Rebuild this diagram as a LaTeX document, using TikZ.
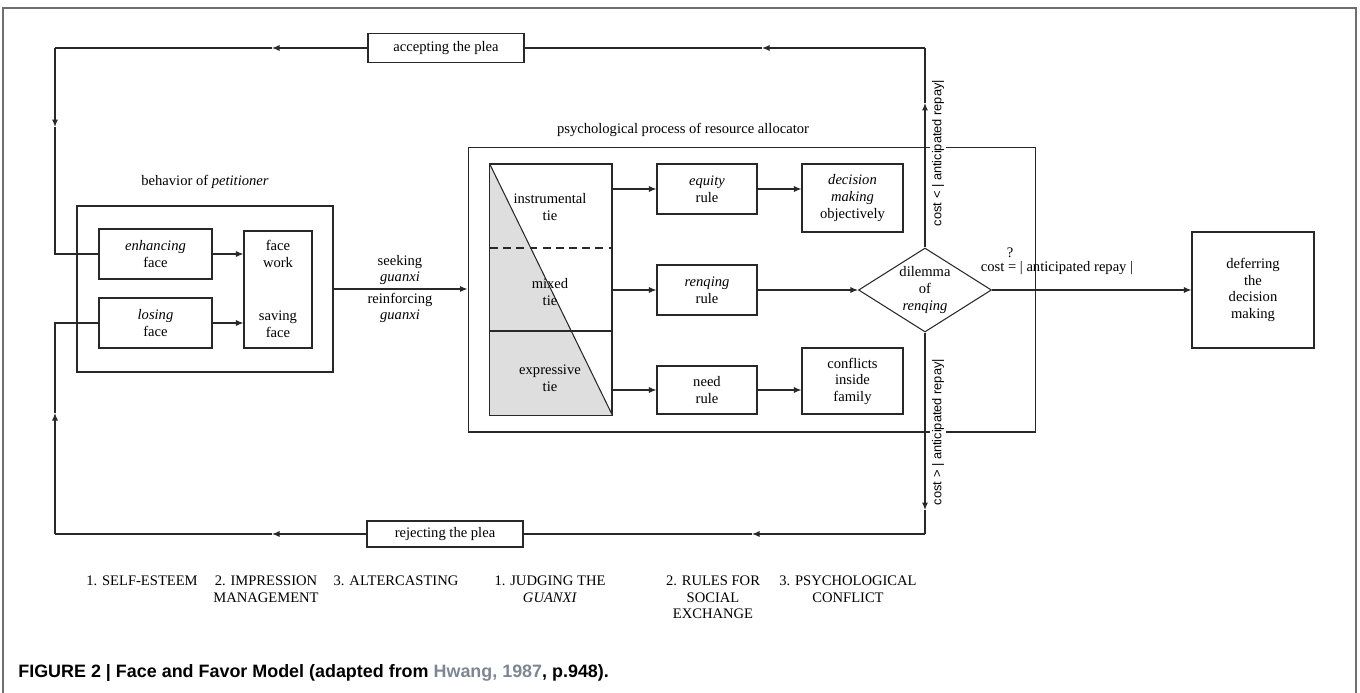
\documentclass[tikz,border=0pt]{standalone}
\usepackage{fontspec}
\setmainfont{Liberation Serif}
\setsansfont{Liberation Sans}
\usepackage{tikz}
\usetikzlibrary{positioning, arrows.meta, shapes.geometric}
\definecolor{ffline}{RGB}{40, 40, 40}
\definecolor{ffframe}{RGB}{110, 110, 110}
\definecolor{ffshade}{RGB}{222, 222, 222}
\definecolor{ffcite}{RGB}{125, 135, 148}
\tikzset{
    ffbox/.style={rectangle, draw=ffline, line width=0.6pt, inner sep=0pt, align=center, font=\fontsize{8.3}{9.4}\selectfont},
    txt/.style={inner sep=1pt, align=center, font=\fontsize{8.3}{9.4}\selectfont},
    vtxt/.style={inner sep=1pt, fill=white, rotate=90, font=\sffamily\fontsize{7.3}{8}\selectfont},
    link/.style={draw=ffline, line width=0.6pt},
    arrowlink/.style={link, -{Latex[length=1.5mm, width=1.2mm]}}
}
\begin{document}
\begin{tikzpicture}[x=0.02cm, y=-0.02cm]
    \useasboundingbox (0,0) rectangle (1360,693);
    \draw[ffframe, line width=0.8pt] (3,700) -- (3,8) -- (1356,8) -- (1356,700);

    % behavior of petitioner
    \node[ffbox, minimum width=5.12cm, minimum height=3.32cm] (pet) at (205,289) {};
    \node[txt] (petlbl) at (205,182) {behavior of \textit{petitioner}};
    \node[ffbox, minimum width=2.26cm, minimum height=1cm] (enh) at (155.5,254) {\textit{enhancing}\\face};
    \node[ffbox, minimum width=2.26cm, minimum height=1cm] (los) at (155.5,323) {\textit{losing}\\face};
    \node[ffbox, minimum width=1.36cm, minimum height=2.34cm] (fw) at (278,289.5) {};
    \node[txt] (fwtop) at (278,254) {face\\work};
    \node[txt] (fwbot) at (278,324) {saving\\face};
    \draw[arrowlink] (enh.east) -- (enh.east -| fw.west);
    \draw[arrowlink] (los.east) -- (los.east -| fw.west);

    % psychological process of resource allocator
    \node[ffbox, minimum width=11.36cm, minimum height=5.7cm] (psy) at (752,289.5) {};
    \node[txt] (psylbl) at (683,130) {psychological process of resource allocator};
    \draw[arrowlink] (pet.east) -- (pet.east -| psy.west);
    \node[txt] (seek) at (400,270) {seeking\\\textit{guanxi}};
    \node[txt] (reinf) at (400,308) {reinforcing\\\textit{guanxi}};

    % ties, shaded below the diagonal
    \node[ffbox, minimum width=2.44cm, minimum height=5.02cm] (tie) at (551,289.5) {};
    \fill[ffshade] (tie.north west) -- (tie.south east) -- (tie.south west) -- cycle;
    \draw[link] (tie.north west) rectangle (tie.south east);
    \draw[link] (tie.north west) -- (tie.south east);
    \draw[link, dash pattern=on 4.5pt off 3pt] (490,248) -- (612,248);
    \draw[link] (490,331) -- (612,331);
    \node[txt] (instr) at (550,207) {instrumental\\tie};
    \node[txt] (mixed) at (550,292) {mixed\\tie};
    \node[txt] (expr) at (550,378) {expressive\\tie};

    % rules
    \node[ffbox, minimum width=2cm, minimum height=1cm] (equ) at (707,189) {\textit{equity}\\rule};
    \node[ffbox, minimum width=2cm, minimum height=1cm] (ren) at (707,290) {\textit{renqing}\\rule};
    \node[ffbox, minimum width=2cm, minimum height=0.96cm] (need) at (707,390) {need\\rule};
    \draw[arrowlink] (tie.east |- equ) -- (equ.west);
    \draw[arrowlink] (tie.east |- ren) -- (ren.west);
    \draw[arrowlink] (tie.east |- need) -- (need.west);

    \node[ffbox, minimum width=2.02cm, minimum height=1.36cm] (dec) at (852.5,198) {\textit{decision}\\\textit{making}\\objectively};
    \node[ffbox, minimum width=2.02cm, minimum height=1.32cm] (con) at (852.5,381) {conflicts\\inside\\family};
    \draw[arrowlink] (equ.east) -- (equ.east -| dec.west);
    \draw[arrowlink] (need.east) -- (need.east -| con.west);

    \node[ffbox, diamond, aspect=1.58, minimum width=2.66cm, minimum height=1.68cm] (dia) at (925,290) {dilemma\\of\\\textit{renqing}};
    \draw[arrowlink] (ren.east) -- (dia.west);

    \node[ffbox, minimum width=2.44cm, minimum height=2.32cm] (def) at (1253,290) {deferring\\the\\decision\\making};
    \draw[arrowlink] (dia.east) -- (def.west);
    \node[txt] (qmark) at (1010,253) {?};
    \node[txt] (costeq) at (1057,268) {cost = | anticipated repay |};

    % feedback loops
    \coordinate (cTR) at (925,48);
    \coordinate (aTR) at (762,48);
    \coordinate (aTL) at (272,48);
    \coordinate (cTL) at (55,48);
    \coordinate (aL1) at (55,127);
    \coordinate (aR1) at (925,103);
    \coordinate (aR2) at (925,510);
    \coordinate (cBR) at (925,534);
    \coordinate (aBR) at (752,534);
    \coordinate (aBL) at (272,534);
    \coordinate (cBL) at (55,534);
    \coordinate (aL2) at (55,413);

    \node[ffbox, minimum width=3.12cm, minimum height=0.58cm] (acc) at (446,48) {accepting the plea};
    \node[ffbox, minimum width=3.12cm, minimum height=0.52cm] (rej) at (445,534) {rejecting the plea};

    \draw[arrowlink] (dia.north) -- (aR1);
    \draw[link] (aR1) -- (cTR);
    \draw[arrowlink] (cTR) -- (aTR);
    \draw[link] (aTR) -- (acc.east);
    \draw[arrowlink] (acc.west) -- (aTL);
    \draw[link] (aTL) -- (cTL);
    \draw[arrowlink] (cTL) -- (aL1);
    \draw[link] (aL1) |- (enh.west);

    \draw[arrowlink] (dia.south) -- (aR2);
    \draw[link] (aR2) -- (cBR);
    \draw[arrowlink] (cBR) -- (aBR);
    \draw[link] (aBR) -- (rej.east);
    \draw[arrowlink] (rej.west) -- (aBL);
    \draw[link] (aBL) -- (cBL);
    \draw[arrowlink] (cBL) -- (aL2);
    \draw[link] (aL2) |- (los.west);

    \node[vtxt] (costlt) at (938,153) {cost < | anticipated repay|};
    \node[vtxt] (costgt) at (938,432) {cost > | anticipated repay|};

    % stages
    \node[txt, anchor=north] (st1) at (142,574) {1. SELF-ESTEEM};
    \node[txt, anchor=north] (st2) at (266,574) {2. IMPRESSION\\MANAGEMENT};
    \node[txt, anchor=north] (st3) at (396,574) {3. ALTERCASTING};
    \node[txt, anchor=north] (st4) at (550,574) {1. JUDGING THE\\\textit{GUANXI}};
    \node[txt, anchor=north] (st5) at (713,574) {2. RULES FOR\\SOCIAL\\EXCHANGE};
    \node[txt, anchor=north] (st6) at (848,574) {3. PSYCHOLOGICAL\\CONFLICT};

    \node[anchor=base west, inner sep=0pt, font=\sffamily\bfseries\fontsize{10.2}{12}\selectfont] (cap) at (18,677)
        {FIGURE 2 | Face and Favor Model (adapted from \textcolor{ffcite}{Hwang, 1987}, p.948).};
\end{tikzpicture}
\end{document}
